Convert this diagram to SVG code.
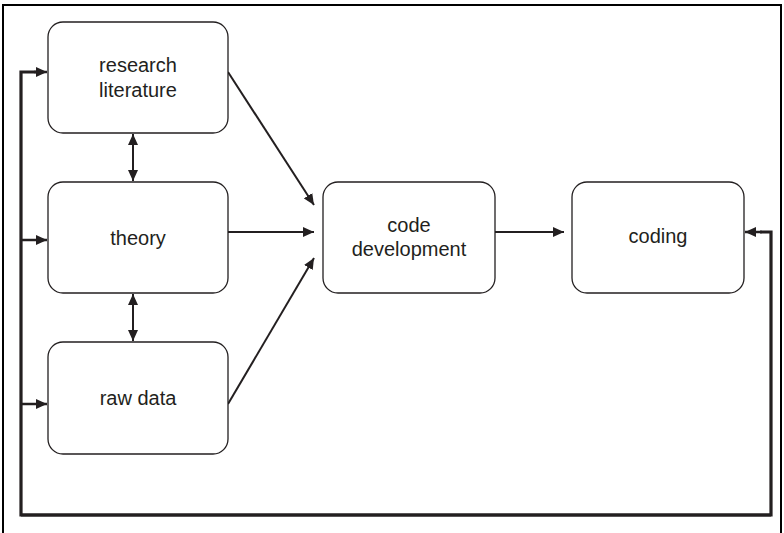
<svg xmlns="http://www.w3.org/2000/svg" width="784" height="533" viewBox="0 0 784 533">
<style>
.box{fill:#fff;stroke:#231f20;stroke-width:1.3}
.lbl{font-family:"Liberation Sans",Arial,sans-serif;font-size:20px;fill:#231f20;text-anchor:middle}
.c{fill:none;stroke:#231f20;stroke-width:2}
.loop{fill:none;stroke:#231f20;stroke-width:3.2}
.br{fill:none;stroke:#231f20;stroke-width:2.5}
</style>
<defs>
<marker id="ah" markerUnits="userSpaceOnUse" markerWidth="11" markerHeight="10" refX="11" refY="5" orient="auto-start-reverse">
<path d="M0,0 L11,5 L0,10 z" fill="#231f20"/>
</marker>
</defs>
<rect x="3" y="5" width="778" height="560" fill="#fff" stroke="#000" stroke-width="2"/>
<g id="connectors">
<path class="loop" d="M21,515 H771 V232 H760"/>
<path class="br" d="M762,232 H745" marker-end="url(#ah)"/>
<path class="loop" d="M771,515 H21 V72 H36"/>
<path class="br" d="M34,72 H47" marker-end="url(#ah)"/>
<path class="br" d="M21,240 H47" marker-end="url(#ah)"/>
<path class="br" d="M21,404 H47" marker-end="url(#ah)"/>
<path class="c" d="M133,134 V181" marker-start="url(#ah)" marker-end="url(#ah)"/>
<path class="c" d="M133,294 V341" marker-start="url(#ah)" marker-end="url(#ah)"/>
<path class="c" d="M228,72 L314,205" marker-end="url(#ah)"/>
<path class="c" d="M228,232 H314" marker-end="url(#ah)"/>
<path class="c" d="M228,404 L314,258" marker-end="url(#ah)"/>
<path class="c" d="M495,232 H564" marker-end="url(#ah)"/>
</g>
<g id="research-literature">
<rect class="box" x="48" y="22" width="180" height="111" rx="15"/>
<text class="lbl" x="138" y="72">research</text>
<text class="lbl" x="138" y="97">literature</text>
</g>
<g id="theory">
<rect class="box" x="48" y="182" width="180" height="111" rx="15"/>
<text class="lbl" x="138" y="245">theory</text>
</g>
<g id="raw-data">
<rect class="box" x="48" y="342" width="180" height="112" rx="15"/>
<text class="lbl" x="138" y="405">raw data</text>
</g>
<g id="code-development">
<rect class="box" x="323" y="182" width="172" height="111" rx="15"/>
<text class="lbl" x="409" y="232">code</text>
<text class="lbl" x="409" y="256">development</text>
</g>
<g id="coding">
<rect class="box" x="572" y="182" width="172" height="111" rx="15"/>
<text class="lbl" x="658" y="243">coding</text>
</g>
</svg>
